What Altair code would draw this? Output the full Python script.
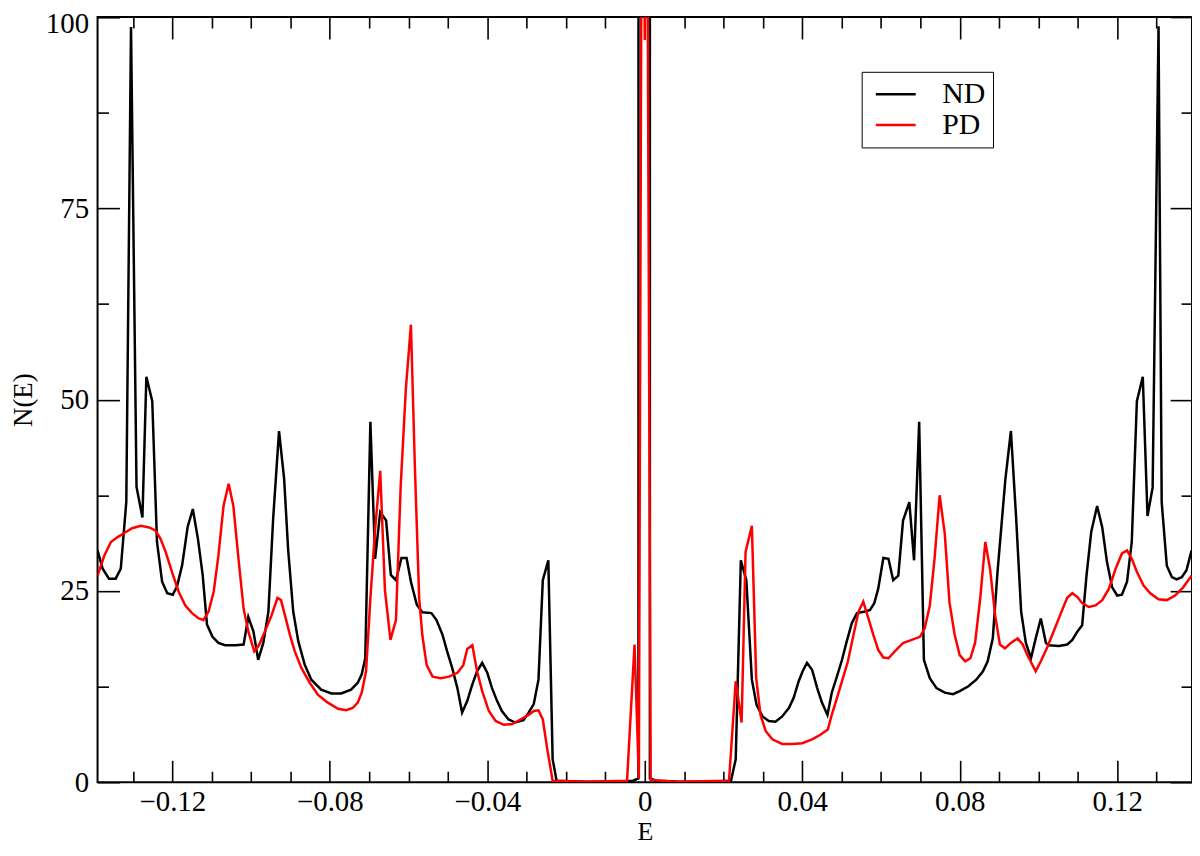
import altair as alt
import pandas as pd

# ---------------- data ----------------
nd_E = [-0.1390, -0.1377, -0.1361, -0.1344, -0.1331, -0.1317, -0.1305, -0.1291, -0.1276, -0.1266,
        -0.1251, -0.1239, -0.1226, -0.1213, -0.1199, -0.1188, -0.1175, -0.1161, -0.1148, -0.1135,
        -0.1123, -0.1112, -0.1098, -0.1083, -0.1066, -0.1040, -0.1019, -0.1007, -0.0994, -0.0982,
        -0.0969, -0.0956, -0.0944, -0.0929, -0.0916, -0.0906, -0.0893, -0.0880, -0.0864, -0.0847,
        -0.0822, -0.0796, -0.0771, -0.0746, -0.0729, -0.0719, -0.0710, -0.0697, -0.0685, -0.0672,
        -0.0657, -0.0645, -0.0632, -0.0618, -0.0605, -0.0594, -0.0579, -0.0565, -0.0542, -0.0529,
        -0.0514, -0.0502, -0.0489, -0.0476, -0.0464, -0.0451, -0.0438, -0.0426, -0.0413, -0.0400,
        -0.0388, -0.0375, -0.0363, -0.0346, -0.0329, -0.0308, -0.0295, -0.0282, -0.0270, -0.0259,
        -0.0245, -0.0234, -0.0224, -0.0150, -0.0060, -0.0030, -0.0016, -0.0015, 0.0012, 0.0013,
        0.0030, 0.0080, 0.0150, 0.0219,
        0.0231, 0.0244, 0.0258, 0.0272, 0.0284, 0.0299, 0.0315, 0.0332, 0.0349, 0.0366,
        0.0378, 0.0391, 0.0401, 0.0412, 0.0425, 0.0438, 0.0450, 0.0464, 0.0475, 0.0488,
        0.0501, 0.0513, 0.0526, 0.0539, 0.0560, 0.0572, 0.0583, 0.0593, 0.0606, 0.0619,
        0.0631, 0.0644, 0.0656, 0.0672, 0.0684, 0.0697, 0.0709, 0.0724, 0.0741, 0.0762,
        0.0783, 0.0800, 0.0821, 0.0842, 0.0859, 0.0871, 0.0884, 0.0896, 0.0916, 0.0930,
        0.0943, 0.0956, 0.0968, 0.0981, 0.0993, 0.1006, 0.1019, 0.1027, 0.1052, 0.1073,
        0.1086, 0.1099, 0.1111, 0.1122, 0.1134, 0.1149, 0.1162, 0.1174, 0.1187, 0.1200,
        0.1212, 0.1225, 0.1237, 0.1250, 0.1265, 0.1277, 0.1290, 0.1305, 0.1313, 0.1326,
        0.1339, 0.1351, 0.1364, 0.1376, 0.1389]
nd_N = [30.3, 27.9, 26.6, 26.6, 27.9, 36.6, 98.7, 38.6, 34.6, 53.0,
        49.8, 31.4, 26.2, 24.7, 24.5, 25.6, 28.4, 33.4, 35.7, 31.8,
        27.1, 20.6, 19.0, 18.2, 17.9, 17.9, 18.0, 21.6, 19.7, 16.0,
        18.2, 22.3, 34.4, 45.9, 39.6, 30.5, 22.3, 18.4, 15.4, 13.4,
        12.1, 11.6, 11.6, 12.1, 13.0, 14.1, 16.2, 47.1, 29.2, 35.3,
        34.2, 27.1, 26.4, 29.3, 29.3, 26.2, 23.2, 22.2, 22.1, 21.2,
        19.3, 17.1, 14.9, 12.3, 9.1, 10.6, 12.8, 14.5, 15.6, 14.3,
        12.3, 10.6, 9.3, 8.2, 7.8, 8.1, 9.1, 10.2, 13.4, 26.4,
        29.0, 3.0, 0.2, 0.05, 0.1, 0.2, 0.5, 2000.0, 2000.0, 0.5,
        0.2, 0.1, 0.05, 0.2,
        3.0, 29.0, 26.4, 13.4, 10.1, 8.6, 8.0, 7.9, 8.6, 9.7,
        11.0, 13.2, 14.5, 15.6, 14.7, 12.3, 10.4, 8.8, 11.7, 13.8,
        16.0, 18.4, 20.8, 22.1, 22.3, 22.5, 23.4, 25.3, 29.3, 29.2,
        26.4, 27.0, 34.2, 36.6, 29.0, 47.1, 16.0, 13.6, 12.3, 11.7,
        11.5, 11.9, 12.5, 13.4, 14.5, 15.8, 18.8, 27.5, 39.6, 45.9,
        34.8, 22.3, 18.2, 16.2, 18.8, 21.4, 18.2, 17.9, 17.8, 18.0,
        18.6, 19.7, 20.5, 27.0, 32.7, 36.1, 33.3, 28.8, 25.5, 24.4,
        24.5, 26.2, 31.4, 49.8, 53.0, 34.8, 38.5, 98.8, 36.6, 28.3,
        26.8, 26.5, 26.8, 27.7, 30.3]

pd_E = [-0.1390, -0.1373, -0.1356, -0.1340, -0.1318, -0.1302, -0.1280, -0.1259, -0.1243, -0.1230,
        -0.1217, -0.1201, -0.1184, -0.1167, -0.1150, -0.1133, -0.1121, -0.1108, -0.1095, -0.1083,
        -0.1070, -0.1057, -0.1045, -0.1032, -0.1019, -0.1007, -0.0992, -0.0980, -0.0965, -0.0948,
        -0.0933, -0.0924, -0.0914, -0.0901, -0.0889, -0.0872, -0.0851, -0.0830, -0.0805, -0.0779,
        -0.0758, -0.0742, -0.0729, -0.0719, -0.0708, -0.0697, -0.0685, -0.0672, -0.0660, -0.0646,
        -0.0632, -0.0620, -0.0607, -0.0594, -0.0584, -0.0573, -0.0565, -0.0554, -0.0539, -0.0518,
        -0.0497, -0.0476, -0.0461, -0.0451, -0.0438, -0.0426, -0.0413, -0.0396, -0.0379, -0.0358,
        -0.0337, -0.0316, -0.0295, -0.0282, -0.0270, -0.0259, -0.0247, -0.0234, -0.0150, -0.0045,
        -0.0026, -0.0015, -0.0006, 0.0000, 0.0004, 0.0015, 0.0080, 0.0214,
        0.0231, 0.0246, 0.0256, 0.0272, 0.0283, 0.0294, 0.0307, 0.0324, 0.0349, 0.0374,
        0.0400, 0.0425, 0.0446, 0.0465, 0.0475, 0.0488, 0.0501, 0.0516, 0.0530, 0.0543,
        0.0555, 0.0568, 0.0581, 0.0593, 0.0606, 0.0619, 0.0635, 0.0656, 0.0678, 0.0699,
        0.0711, 0.0724, 0.0736, 0.0749, 0.0762, 0.0774, 0.0787, 0.0800, 0.0814, 0.0827,
        0.0839, 0.0852, 0.0865, 0.0877, 0.0890, 0.0902, 0.0915, 0.0930, 0.0947, 0.0960,
        0.0972, 0.0993, 0.1006, 0.1023, 0.1040, 0.1057, 0.1073, 0.1086, 0.1099, 0.1111,
        0.1128, 0.1145, 0.1162, 0.1179, 0.1196, 0.1212, 0.1225, 0.1237, 0.1250, 0.1267,
        0.1284, 0.1305, 0.1326, 0.1347, 0.1368, 0.1389]
pd_N = [27.0, 29.6, 31.4, 32.0, 32.7, 33.2, 33.5, 33.3, 32.9, 31.8,
        30.1, 27.5, 24.9, 23.1, 22.1, 21.4, 21.2, 22.3, 24.9, 29.6,
        36.1, 39.0, 36.1, 29.2, 22.7, 19.7, 17.1, 17.9, 19.7, 21.8,
        24.1, 23.8, 21.8, 19.2, 17.1, 14.9, 13.0, 11.4, 10.4, 9.6,
        9.4, 9.7, 10.4, 11.7, 14.5, 24.0, 33.0, 40.7, 25.1, 18.6,
        21.2, 38.7, 51.3, 59.8, 41.3, 24.0, 19.2, 15.3, 13.8, 13.6,
        13.8, 14.3, 15.3, 17.4, 17.9, 14.5, 11.9, 9.3, 8.0, 7.5,
        7.6, 8.2, 8.8, 9.3, 9.4, 8.2, 4.1, 0.2, 0.05, 0.2,
        18.0, 0.5, 150.0, 97.0, 150.0, 0.3, 0.05, 0.2,
        13.2, 7.8, 30.1, 33.5, 13.6, 8.8, 6.7, 5.6, 5.0, 5.0,
        5.1, 5.6, 6.2, 6.9, 8.8, 11.0, 13.2, 15.8, 19.2, 22.3,
        23.6, 21.4, 19.2, 17.3, 16.3, 16.2, 17.1, 18.2, 18.6, 19.0,
        20.1, 23.1, 29.2, 37.5, 32.5, 23.5, 19.3, 16.6, 15.8, 16.2,
        18.2, 24.0, 31.4, 27.9, 21.8, 18.0, 17.5, 18.2, 18.8, 18.0,
        16.6, 14.5, 15.8, 17.7, 19.9, 22.1, 24.1, 24.7, 24.2, 23.4,
        22.9, 23.1, 23.8, 25.3, 27.9, 29.9, 30.3, 29.2, 27.5, 25.7,
        24.7, 23.9, 23.8, 24.4, 25.5, 27.0]

series_names = ["ND", "PD"]
series_colors = ["#000000", "#ff0000"]

x_major = [-0.12, -0.08, -0.04, 0, 0.04, 0.08, 0.12]
x_minor = [-0.13, -0.11, -0.10, -0.09, -0.07, -0.06, -0.05, -0.03, -0.02, -0.01,
           0.01, 0.02, 0.03, 0.05, 0.06, 0.07, 0.09, 0.10, 0.11, 0.13]
y_major = [0, 25, 50, 75, 100]
y_minor = [12.5, 37.5, 62.5, 87.5]
y_top_label = [100]

# ---------------- table ----------------
df = pd.concat([
    pd.DataFrame({"E": nd_E, "N": nd_N, "series": "ND", "i": range(len(nd_E))}),
    pd.DataFrame({"E": pd_E, "N": pd_N, "series": "PD", "i": range(len(pd_E))}),
], ignore_index=True)

FONT = "Liberation Serif"
W, H = 1100, 769
MAJ, MIN = 22, 11
LBL = 29

x_scale = alt.Scale(domain=[-0.139, 0.139], nice=False, zero=False)
y_scale = alt.Scale(domain=[0, 100], nice=False, zero=False)

x_label_expr = "datum.value == 0 ? '0' : format(datum.value, '.2f')"


def tick_axis(values, orient, size, labels=False, **kw):
    return alt.Axis(orient=orient, values=values, tickSize=size, offset=-size,
                    domain=False, grid=False, labels=labels, ticks=True,
                    labelFont=FONT, titleFont=FONT, labelColor="black",
                    titleColor="black", tickColor="black", tickWidth=1.6,
                    titleFontWeight="normal", **kw)


lines = alt.Chart(df).mark_line(clip=True, strokeWidth=2.5, strokeJoin="miter").encode(
    x=alt.X("E:Q", scale=x_scale,
            axis=tick_axis(x_major, "bottom", MAJ, labels=True, labelExpr=x_label_expr,
                           labelFontSize=LBL, labelPadding=5, title="E",
                           titleFontSize=26, titlePadding=3)),
    y=alt.Y("N:Q", scale=y_scale,
            axis=tick_axis(y_major, "left", MAJ, labels=True, labelFontSize=LBL,
                           labelExpr="datum.value == 100 ? '' : datum.label",
                           labelPadding=9, title="N(E)", titleFontSize=27,
                           titlePadding=22)),
    color=alt.Color("series:N",
                    scale=alt.Scale(domain=series_names, range=series_colors),
                    legend=alt.Legend(title=None, orient="none", legendX=768, legendY=55,
                                      direction="vertical", strokeColor="black",
                                      fillColor="white", padding=7,
                                      symbolType="M-0.59,0H2.27", symbolSize=784,
                                      symbolStrokeWidth=2.5, labelFont=FONT,
                                      labelFontSize=30, labelOffset=43, rowPadding=0,
                                      labelColor="black")),
    order="i:Q",
)


def ghost(x_axis, y_axis):
    return alt.Chart(df).mark_line(clip=True, strokeOpacity=0).encode(
        x=alt.X("E:Q", scale=x_scale, title=None, axis=x_axis),
        y=alt.Y("N:Q", scale=y_scale, title=None, axis=y_axis),
        detail="series:N",
    )


chart = alt.layer(
    ghost(tick_axis(x_minor, "bottom", MIN), tick_axis(y_minor, "left", MIN)),
    ghost(tick_axis(x_major, "top", MAJ), tick_axis(y_major, "right", MAJ)),
    ghost(tick_axis(x_minor, "top", MIN), tick_axis(y_minor, "right", MIN)),
    ghost(None, tick_axis(y_top_label, "left", MAJ, labels=True, labelFontSize=LBL,
                          labelPadding=9, labelOffset=7)),
    lines,
).resolve_axis(x="independent", y="independent").properties(
    width=W, height=H,
    autosize=alt.AutoSizeParams(type="none"),
    padding={"left": 90, "top": 7, "right": 0, "bottom": 64},
    background="white",
).configure_view(stroke="black", strokeWidth=2)

chart.save("out.html", embed_options={"renderer": "svg", "actions": False})
